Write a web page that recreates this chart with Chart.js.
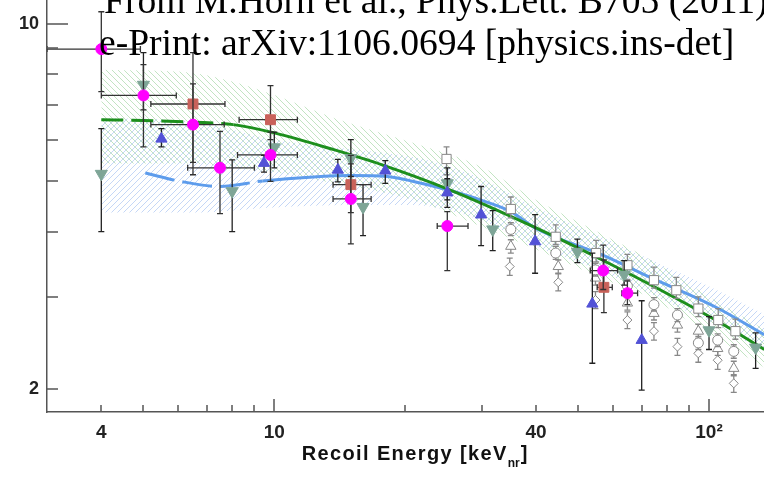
<!DOCTYPE html>
<html>
<head>
<meta charset="utf-8">
<title>Recoil Energy</title>
<script src="https://cdn.jsdelivr.net/npm/chart.js@4.4.0/dist/chart.umd.min.js"></script>
<style>
    html, body { margin: 0; padding: 0; background: #fff; }
    canvas { display: block; }
</style>
</head>
<body>
<canvas id="chart" width="764" height="480"></canvas>
<script>
// AXES
const xTickValues = [4, 5, 6, 7, 8, 9, 10, 20, 30, 40, 50, 60, 70, 80, 90, 100];
const xTickLabels = { 4: "4", 10: "10", 40: "40", 100: "10\u00b2" };
const yTickValues = [2, 3, 4, 5, 6, 7, 8, 9, 10];
const yTickLabels = { 2: "2", 10: "10" };
const titleLines = ["From M.Horn et al., Phys.Lett. B705 (2011)", "e-Print: arXiv:1106.0694 [physics.ins-det]"];

// MAGENTA CIRCLES
const magX = [4.0, 5.0, 6.5, 7.5, 9.8, 15.0, 25.0, 57.1, 64.9];
const magY = [8.94, 7.29, 6.41, 5.30, 5.61, 4.62, 4.10, 3.37, 3.05];
const magYLo = [7.41, 5.81, 5.14, 4.33, 4.99, 3.79, 3.37, 3.10, 2.90];
const magYHi = [10.54, 8.35, 7.67, 6.22, 6.20, 5.39, 4.37, 3.77, 3.22];
const magXLo = [3.0, 4.0, 5.2, 6.32, 8.23, 13.65, 23.7, 53.3, 63.0];
const magXHi = [4.92, 5.95, 7.67, 9.0, 11.3, 16.7, 27.9, 61.6, 68.5];

// RED SQUARES
const sqX = [6.5, 9.8, 15.0, 57.3];
const sqY = [7.02, 6.55, 4.92, 3.13];
const sqYLo = [5.43, 6.0, 4.35, 2.80];
const sqYHi = [8.8, 7.61, 5.6, 3.53];
const sqXLo = [5.2, 8.3, 13.65, 55.3];
const sqXHi = [7.7, 11.3, 16.7, 59.9];

// BLUE TRIANGLES
const triX = [5.5, 9.47, 14.0, 18.0, 25.0, 29.9, 39.8, 53.9, 70.0];
const triY = [6.02, 5.41, 5.25, 5.23, 4.75, 4.31, 3.83, 2.91, 2.48];
const triYLo = [5.81, 5.2, 4.98, 4.95, 4.45, 3.76, 3.33, 2.24, 1.99];
const triYHi = [6.30, 5.6, 5.50, 5.47, 5.05, 4.88, 4.31, 3.64, 2.95];

// GREY-GREEN INVERTED TRIANGLES
const invX = [4.0, 5.0, 8.0, 10.0, 15.0, 16.0, 25.0, 31.8, 49.8, 63.8, 100, 128];
const invY = [5.16, 7.64, 4.78, 5.80, 5.53, 4.46, 4.95, 4.04, 3.66, 3.31, 2.59, 2.40];
const invYLo = [4.0, 6.84, 4.0, 5.3, 5.1, 3.93, 4.6, 3.68, 3.49, 3.16, 2.38, 2.19];
const invYHi = [6.30, 8.8, 5.49, 6.2, 6.0, 4.92, 5.3, 4.39, 3.87, 3.52, 2.75, 2.56];

// OPEN GREY MARKERS
const oSqX = [24.9, 35.0, 44.4, 55.0, 64.9, 74.7, 84.1, 94.5, 105, 115];
const oSqY = [5.51, 4.42, 3.91, 3.64, 3.45, 3.23, 3.09, 2.85, 2.71, 2.58];
const oSqYLo = [5.14, 4.25, 3.78, 3.50, 3.33, 3.12, 2.98, 2.75, 2.62, 2.49];
const oSqYHi = [5.81, 4.66, 4.12, 3.85, 3.62, 3.42, 3.27, 3.00, 2.85, 2.72];

const oCirX = [35.0, 44.4, 54.8, 64.9, 74.7, 84.6, 94.5, 104.7, 114];
const oCirY = [4.04, 3.64, 3.38, 3.15, 2.90, 2.77, 2.45, 2.48, 2.36];
const oCirYLo = [3.93, 3.54, 3.29, 3.06, 2.82, 2.69, 2.38, 2.41, 2.29];
const oCirYHi = [4.16, 3.75, 3.48, 3.24, 2.99, 2.85, 2.52, 2.55, 2.43];

const oTriX = [35.0, 45.0, 54.8, 64.9, 74.7, 84.6, 94.5, 104.7, 114];
const oTriY = [3.75, 3.43, 3.26, 2.92, 2.79, 2.65, 2.58, 2.39, 2.19];
const oTriYLo = [3.64, 3.33, 3.16, 2.83, 2.71, 2.57, 2.50, 2.32, 2.12];
const oTriYHi = [3.86, 3.53, 3.36, 3.01, 2.87, 2.73, 2.66, 2.46, 2.26];

const oDiaX = [34.8, 45.0, 54.8, 64.9, 74.7, 84.6, 94.5, 104.7, 114];
const oDiaY = [3.43, 3.20, 2.96, 2.71, 2.58, 2.41, 2.34, 2.27, 2.05];
const oDiaYLo = [3.30, 3.08, 2.85, 2.61, 2.48, 2.32, 2.25, 2.18, 1.97];
const oDiaYHi = [3.56, 3.32, 3.07, 2.81, 2.68, 2.50, 2.43, 2.36, 2.13];

// MODEL CURVES
const greenX = [4.0, 5.0, 6.5, 8.05, 10, 13.7, 17.7, 25, 39.9, 56.8, 72.6, 103.5, 134];
const greenY = [6.55, 6.53, 6.48, 6.41, 6.18, 5.74, 5.37, 4.83, 4.07, 3.53, 3.18, 2.71, 2.38];
const blueX = [5.05, 6.1, 7.5, 9.4, 12.3, 15.0, 18.2, 20.9, 25, 29.8, 35, 39.9, 56.8, 72.6, 103.5, 134];
const blueY = [5.18, 4.99, 4.88, 5.0, 5.09, 5.12, 5.10, 4.99, 4.81, 4.60, 4.37, 4.06, 3.61, 3.28, 2.87, 2.54];

// UNCERTAINTY BANDS
const greenBandX = [4, 6.5, 8, 10, 13.7, 20.9, 29.8, 40, 57, 72.6, 103.5, 134];
const greenBandHi = [8.16, 8.05, 7.75, 7.3, 6.6, 5.91, 5.33, 4.6, 3.95, 3.55, 2.95, 2.6];
const greenBandLo = [5.4, 5.4, 5.3, 5.2, 4.95, 4.6, 4.1, 3.7, 3.25, 3.0, 2.5, 2.2];
const blueBandX = [4, 6.5, 10, 15, 21, 25, 30, 40, 57, 72.6, 103.5, 134];
const blueBandHi = [6.6, 6.5, 6.0, 5.75, 5.55, 5.35, 5.05, 4.45, 3.9, 3.55, 3.1, 2.78];
const blueBandLo = [4.35, 4.35, 4.45, 4.5, 4.5, 4.4, 4.2, 3.75, 3.35, 3.05, 2.65, 2.36];

const canvas = document.getElementById("chart");
const ctx = canvas.getContext("2d");

function pts(xs, ys) {
    return xs.map((x, i) => ({ x: x, y: ys[i] }));
}

function hatch(color, rising) {
    const c = document.createElement("canvas");
    c.width = 6;
    c.height = 6;
    const g = c.getContext("2d");
    g.strokeStyle = color;
    g.lineWidth = 1;
    g.beginPath();
    if (rising) { g.moveTo(-1, 7); g.lineTo(7, -1); }
    else { g.moveTo(-1, -1); g.lineTo(7, 7); }
    g.stroke();
    return ctx.createPattern(c, "repeat");
}

function band(xs, hi, lo, pattern) {
    return [
        { data: pts(xs, hi), showLine: true, borderWidth: 0, pointRadius: 0, fill: "+1",
          backgroundColor: pattern, cubicInterpolationMode: "monotone", order: 10 },
        { data: pts(xs, lo), showLine: true, borderWidth: 0, pointRadius: 0, fill: false,
          cubicInterpolationMode: "monotone", order: 10 }
    ];
}

function markers(xs, ys, lo, hi, style) {
    return Object.assign({ data: pts(xs, ys), yLo: lo, yHi: hi, showLine: false, borderWidth: 1 }, style);
}

// ERROR BARS (drawn just under each marker set)
const errorBars = {
    id: "errorBars",
    beforeDatasetDraw(chart, args) {
        const ds = chart.data.datasets[args.index];
        if (!ds.yLo) return;
        const { ctx, chartArea: a, scales: { x, y } } = chart;
        ctx.save();
        ctx.beginPath();
        ctx.rect(a.left, a.top, a.right - a.left, a.bottom - a.top);
        ctx.clip();
        ctx.strokeStyle = ds.barColor;
        ctx.lineWidth = 1.3;
        ctx.beginPath();
        ds.data.forEach((p, i) => {
            const px = x.getPixelForValue(p.x), py = y.getPixelForValue(p.y);
            const top = y.getPixelForValue(ds.yHi[i]), bot = y.getPixelForValue(ds.yLo[i]);
            ctx.moveTo(px, top); ctx.lineTo(px, bot);
            ctx.moveTo(px - 3, top); ctx.lineTo(px + 3, top);
            ctx.moveTo(px - 3, bot); ctx.lineTo(px + 3, bot);
            if (ds.xLo) {
                const l = x.getPixelForValue(ds.xLo[i]), r = x.getPixelForValue(ds.xHi[i]);
                ctx.moveTo(l, py); ctx.lineTo(r, py);
                ctx.moveTo(l, py - 3); ctx.lineTo(l, py + 3);
                ctx.moveTo(r, py - 3); ctx.lineTo(r, py + 3);
            }
        });
        ctx.stroke();
        ctx.restore();
    }
};

// INWARD TICK MARKS
const axisTicks = {
    id: "axisTicks",
    afterDatasetsDraw(chart) {
        const { ctx, chartArea: a, scales: { x, y } } = chart;
        ctx.save();
        ctx.strokeStyle = "#555";
        ctx.lineWidth = 1.5;
        ctx.beginPath();
        xTickValues.forEach(v => {
            const px = Math.round(x.getPixelForValue(v));
            const len = (v === 10 || v === 100) ? 13 : 7;
            ctx.moveTo(px, a.bottom); ctx.lineTo(px, a.bottom - len);
        });
        yTickValues.forEach(v => {
            const py = Math.round(y.getPixelForValue(v));
            const len = v === 10 ? 21 : 11;
            ctx.moveTo(a.left, py); ctx.lineTo(a.left + len, py);
        });
        ctx.stroke();
        ctx.restore();
    }
};

// TEXTS
const texts = {
    id: "texts",
    afterDraw(chart) {
        const c = chart.ctx;
        c.save();
        c.fillStyle = "#000";
        c.textBaseline = "alphabetic";
        c.textAlign = "left";
        c.font = '32px "Liberation Serif"';
        const size = 32 * 635 / c.measureText(titleLines[1]).width;
        c.font = size.toFixed(1) + 'px "Liberation Serif"';
        c.fillText(titleLines[0], 104, 13);
        c.fillText(titleLines[1], 99, 55);

        // x axis title with subscript, widened slightly to the reference width
        c.fillStyle = "#111";
        const main = "Recoil Energy [keV", sub = "nr", end = "]";
        c.font = 'bold 20px "Liberation Sans"';
        const spacing = Math.max(0, (206 - c.measureText(main).width) / main.length);
        c.letterSpacing = spacing.toFixed(2) + "px";
        const wMain = c.measureText(main).width;
        c.letterSpacing = "0px";
        const wEnd = c.measureText(end).width;
        c.font = 'bold 12px "Liberation Sans"';
        const wSub = c.measureText(sub).width;
        const x0 = 414 - (wMain + wSub + wEnd) / 2;
        c.font = 'bold 20px "Liberation Sans"';
        c.letterSpacing = spacing.toFixed(2) + "px";
        c.fillText(main, x0, 460);
        c.letterSpacing = "0px";
        c.fillText(end, x0 + wMain + wSub + 1, 460);
        c.font = 'bold 12px "Liberation Sans"';
        c.fillText(sub, x0 + wMain, 467);
        c.restore();
    }
};

const datasets = [
    ...band(greenBandX, greenBandHi, greenBandLo, hatch("rgba(110,190,110,0.42)", false)),
    ...band(blueBandX, blueBandHi, blueBandLo, hatch("rgba(90,140,230,0.35)", true)),
    { data: pts(greenX, greenY), showLine: true, pointRadius: 0, borderColor: "#1d8f1d", borderWidth: 3,
      cubicInterpolationMode: "monotone", order: 5,
      segment: { borderDash: c => c.p0.parsed.x < 7 ? [22, 8] : undefined } },
    { data: pts(blueX, blueY), showLine: true, pointRadius: 0, borderColor: "#5d9cec", borderWidth: 3,
      cubicInterpolationMode: "monotone", order: 5,
      segment: { borderDash: c => c.p0.parsed.x < 8.7 ? [30, 8] : undefined } },
    markers(oSqX, oSqY, oSqYLo, oSqYHi, { pointStyle: "rect", pointRadius: 6.5, backgroundColor: "#fff",
        borderColor: "#888", barColor: "#888", order: 4 }),
    markers(oCirX, oCirY, oCirYLo, oCirYHi, { pointStyle: "circle", pointRadius: 5, backgroundColor: "#fff",
        borderColor: "#888", barColor: "#888", order: 4 }),
    markers(oTriX, oTriY, oTriYLo, oTriYHi, { pointStyle: "triangle", pointRadius: 6, backgroundColor: "#fff",
        borderColor: "#888", barColor: "#888", order: 4 }),
    markers(oDiaX, oDiaY, oDiaYLo, oDiaYHi, { pointStyle: "rectRot", pointRadius: 4.5, backgroundColor: "#fff",
        borderColor: "#888", barColor: "#888", order: 4 }),
    markers(invX, invY, invYLo, invYHi, { pointStyle: "triangle", rotation: 180, pointRadius: 7,
        backgroundColor: "#7ea597", borderColor: "#7ea597", barColor: "#222", order: 3 }),
    markers(triX, triY, triYLo, triYHi, { pointStyle: "triangle", pointRadius: 6.5,
        backgroundColor: "#5252d6", borderColor: "#5252d6", barColor: "#222", order: 2 }),
    Object.assign(markers(sqX, sqY, sqYLo, sqYHi, { pointStyle: "rect", pointRadius: 7,
        backgroundColor: "#c9625a", borderColor: "#c9625a", barColor: "#333", order: 1 }), { xLo: sqXLo, xHi: sqXHi }),
    Object.assign(markers(magX, magY, magYLo, magYHi, { pointStyle: "circle", pointRadius: 5.5,
        backgroundColor: "#ff00ff", borderColor: "#ff00ff", barColor: "#333", order: 0 }), { xLo: magXLo, xHi: magXHi })
];

new Chart(ctx, {
    type: "scatter",
    data: { datasets: datasets },
    options: {
        responsive: false,
        animation: false,
        layout: { padding: 0, autoPadding: false },
        plugins: { legend: { display: false }, tooltip: { enabled: false } },
        scales: {
            x: {
                type: "logarithmic", min: 3.0, max: 133.8,
                afterBuildTicks: s => { s.ticks = xTickValues.map(v => ({ value: v })); },
                afterFit: s => { s.height = 68; s.paddingLeft = 0; s.paddingRight = 0; },
                grid: { display: false, drawTicks: false },
                border: { color: "#555", width: 1.5 },
                ticks: {
                    autoSkip: false, maxRotation: 0, padding: 9, color: "#222",
                    font: { family: "Liberation Sans", weight: "bold", size: 19 },
                    callback: v => xTickLabels[v] || ""
                }
            },
            y: {
                type: "logarithmic", min: 1.807, max: 11.1,
                afterBuildTicks: s => { s.ticks = yTickValues.map(v => ({ value: v })); },
                afterFit: s => { s.width = 47; s.paddingTop = 0; s.paddingBottom = 0; },
                grid: { display: false, drawTicks: false },
                border: { color: "#555", width: 1.5 },
                ticks: {
                    autoSkip: false, padding: 8, color: "#222",
                    font: { family: "Liberation Sans", weight: "bold", size: 18 },
                    callback: v => yTickLabels[v] || ""
                }
            }
        }
    },
    plugins: [errorBars, axisTicks, texts]
});
</script>
</body>
</html>
